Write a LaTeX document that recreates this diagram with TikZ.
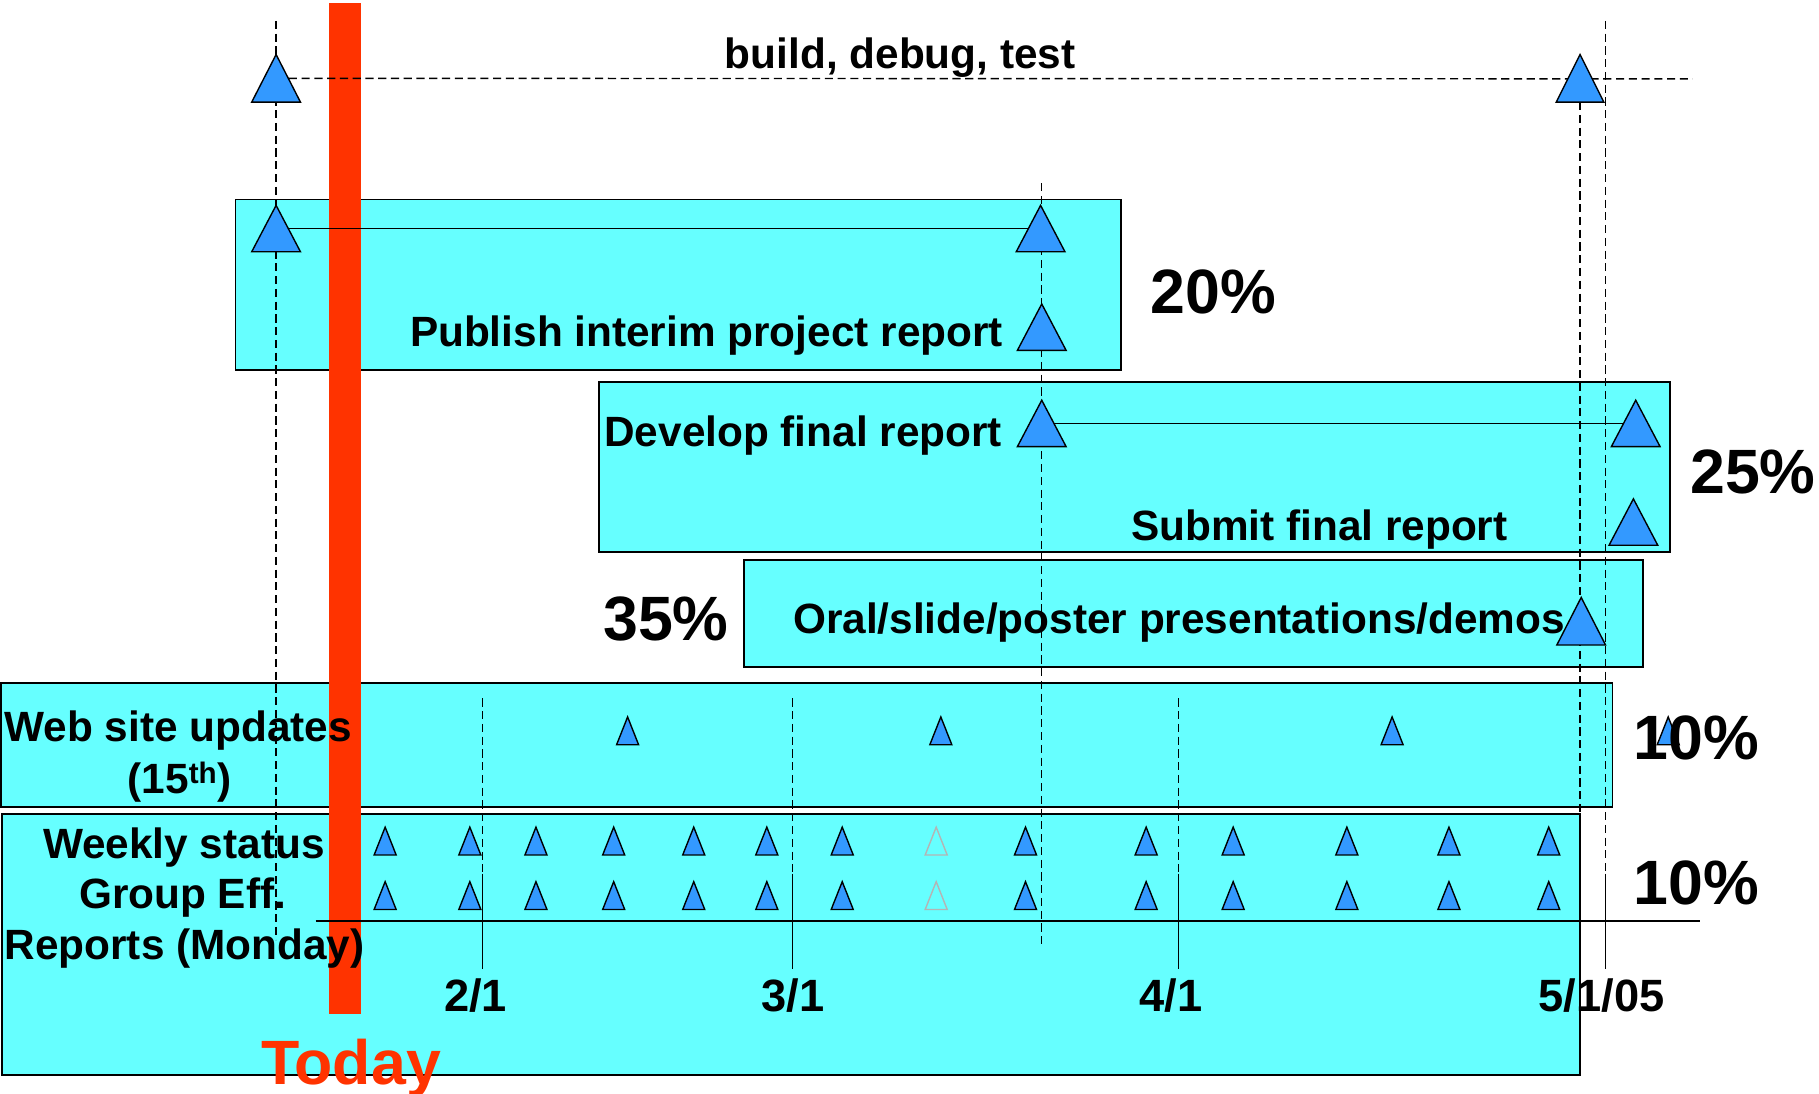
\documentclass[tikz,border=0pt]{standalone}
\usepackage{fontspec}
\setmainfont{Liberation Sans}
\definecolor{boxcyan}{HTML}{66FFFF}
\definecolor{msblue}{HTML}{3399FF}
\definecolor{todayred}{HTML}{FF3300}
\definecolor{ghost}{HTML}{B4B4B4}
\tikzset{
  taskbox/.style={draw=black, fill=boxcyan, line width=1.6pt, inner sep=0pt, outer sep=0pt},
  msbox/.style={rectangle, inner sep=0pt, outer sep=0pt},
  mstri/.style={fill=msblue, draw=black, line width=1.2pt, line join=miter},
  ghosttri/.style={fill=none, draw=ghost},
  guide/.style={draw=black, line width=1.2pt, dash pattern=on 7pt off 4pt},
  link/.style={draw=black, line width=1.2pt},
  lbl/.style={inner sep=0pt, outer sep=0pt, font=\bfseries\fontsize{36.5}{43}\selectfont},
  pct/.style={inner sep=0pt, outer sep=0pt, font=\bfseries\fontsize{54}{60}\selectfont},
  month/.style={inner sep=0pt, outer sep=0pt, font=\bfseries\fontsize{39}{44}\selectfont},
}
\newcommand\defms[5]{\node[msbox, minimum width=#4pt, minimum height=#5pt] (#1) at (#2,{#3+#5/2}) {};}
\newcommand\drawms[2][]{\filldraw[mstri,#1] (#2.south west) -- (#2.north) -- (#2.south east) -- cycle;}
\begin{document}
\begin{tikzpicture}[x=1pt,y=-1pt]
\useasboundingbox (0,0) rectangle (1568,943);
% task boxes
\node[taskbox, minimum width=763pt, minimum height=147pt] (box1) at (584.5,245.5) {};
\node[taskbox, minimum width=923.5pt, minimum height=147pt] (box2) at (977.75,402.5) {};
\node[taskbox, minimum width=775pt, minimum height=92pt] (box3) at (1028.5,529) {};
\node[taskbox, minimum width=1389pt, minimum height=107pt] (box4) at (695.5,642) {};
\node[taskbox, minimum width=1360pt, minimum height=225pt] (box5) at (682,814.5) {};
% today bar
\node[fill=todayred, inner sep=0pt, outer sep=0pt, minimum width=27.5pt, minimum height=871pt] (todaybar) at (297.25,438.5) {};
% milestone nodes
\defms{A1}{238}{47}{42}{41}
\defms{A2}{1362}{47}{41}{41}
\defms{B1}{238}{177}{42}{40}
\defms{B2}{897}{177}{42}{40}
\defms{B3}{898}{262}{42}{40}
\defms{C1}{898}{345}{42}{40}
\defms{C2}{1410}{345}{42}{40}
\defms{C3}{1408}{430}{42}{40}
\defms{D1}{1363}{515}{42}{41}
\defms{W1}{541}{618}{19}{24}
\defms{W2}{811}{618}{19}{24}
\defms{W3}{1200}{618}{19}{24}
\defms{W4}{1438}{618}{19}{24}
\foreach \x [count=\i] in {332,405,462,529,598,661,726,807,884,988,1063,1161,1249,1335}{
  \defms{Ra\i}{\x}{713}{19}{24}
  \defms{Rb\i}{\x}{760}{19}{24}
}
% guide coordinates
\coordinate (g1t) at (238,18);   \coordinate (g1b) at (238,810);
\coordinate (g2t) at (898,158);  \coordinate (g2b) at (898,815);
\coordinate (g3t) at (1362,88);  \coordinate (g3b) at (1362,927);
\coordinate (g4t) at (1384,18);  \coordinate (g4b) at (1384,835);
\coordinate (htend) at (1459,68);
\coordinate (axl) at (272,794);  \coordinate (axr) at (1465,794);
\foreach \x [count=\i] in {416,683,1016}{
  \coordinate (m\i t) at (\x,602);
  \coordinate (m\i s) at (\x,753);
  \coordinate (m\i b) at (\x,835);
}
\coordinate (m4s) at (1384,753);
% guides
\draw[guide] (g1t) -- (g1b);
\draw[guide] (g2t) -- (g2b);
\draw[guide] (g3t) -- (g3b);
\draw[guide] (g4t) -- (g4b);
\draw[guide] (A1.center) -- (htend);
\foreach \i in {1,2,3}{
  \draw[guide] (m\i t) -- (m\i b);
  \draw[link] (m\i s) -- (m\i b);
}
\draw[link] (m4s) -- (g4b);
\draw[link] (axl) -- (axr);
% connectors
\draw[link] (B1.center) -- (B2.center);
\draw[link] (C1.center) -- (C2.center);
% milestones
\foreach \n in {A1,A2,B1,B2,B3,C1,C2,C3,D1,W1,W2,W3,W4}{\drawms{\n}}
\foreach \i in {1,...,14}{
  \ifnum\i=8 \drawms[ghosttri]{Ra\i}\drawms[ghosttri]{Rb\i}\else\drawms{Ra\i}\drawms{Rb\i}\fi
}
% texts
\node[lbl, anchor=base] (bdt) at (776,59) {build, debug, test};
\node[lbl, anchor=base east] (t1) at (864.5,299) {Publish interim project report};
\node[pct, anchor=base west] (p1) at (992,270) {20\%};
\node[lbl, anchor=base west] (t2) at (521,384.5) {Develop final report};
\node[lbl, anchor=base west] (t3) at (975,465.5) {Submit final report};
\node[pct, anchor=base west] (p2) at (1457,425) {25\%};
\node[lbl, anchor=base east] (t4) at (1349,546) {Oral/slide/poster presentations/demos};
\node[pct, anchor=base west] (p3) at (520,552) {35\%};
\node[lbl, anchor=base west] (t5) at (4,639.5) {Web site updates};
\node[lbl, anchor=base west] (t5b) at (110,684) {(15\textsuperscript{th})};
\node[pct, anchor=base west] (p4) at (1408,655) {10\%};
\node[pct, anchor=base west] (p5) at (1408,780) {10\%};
\node[lbl, anchor=base] (t6) at (158.5,740) {Weekly status};
\node[lbl, anchor=base] (t7) at (157.5,783) {Group Eff.};
\node[lbl, anchor=base west] (t8) at (4,827.5) {Reports (Monday)};
\node[month, anchor=base] (d1) at (410,872) {2/1};
\node[month, anchor=base] (d2) at (683.5,872) {3/1};
\node[month, anchor=base] (d3) at (1009.5,872) {4/1};
\node[month, anchor=base] (d4) at (1380.5,872) {5/1/05};
\node[pct, anchor=base, text=todayred] (today) at (302.5,935) {Today};
\end{tikzpicture}
\end{document}
